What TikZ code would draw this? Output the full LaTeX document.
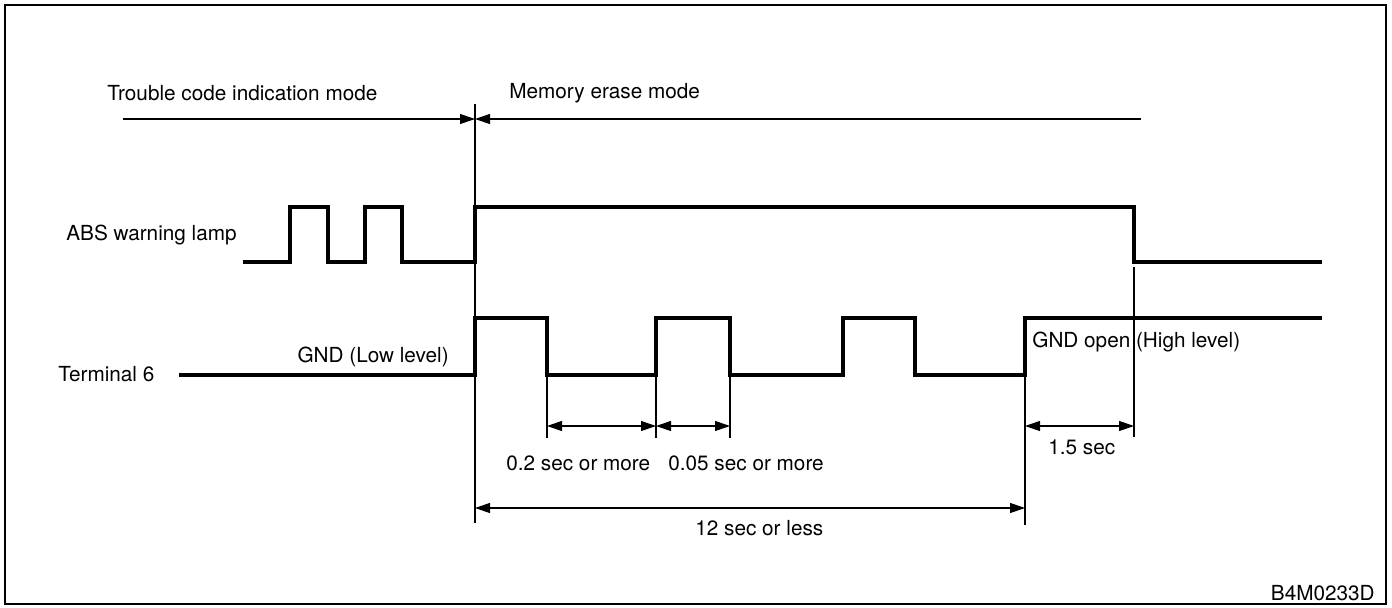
\documentclass[tikz,border=0pt]{standalone}
\usepackage{fontspec}
\setmainfont{TeX Gyre Heros}
\usetikzlibrary{arrows.meta}
\tikzset{wave/.style={line width=2.2pt,line join=miter},
  tick/.style={line width=0.6pt},
  dim/.style={line width=0.6pt,-{Triangle[length=3mm,width=2mm]}},
  dimboth/.style={line width=0.6pt,{Triangle[length=3mm,width=2mm]}-{Triangle[length=3mm,width=2mm]}},
  lbl/.style={inner sep=0pt,font=\fontsize{11.8}{14}\selectfont}
}
\begin{document}
\begin{tikzpicture}[x=0.2mm,y=-0.2mm]
  \useasboundingbox (0,0) rectangle (1392,607);
  % -- The frame round everything.
  \draw[line width=1pt] (5,5) rectangle (1386,604);

  % -- Mode labels and their arrows.
  \node[lbl,anchor=west] (trouble) at (107,93) {Trouble code indication mode};
  \node[lbl,anchor=west] (erase) at (509,93) {Memory erase mode};
  \coordinate (mstart) at (123,119);
  \coordinate (mmid) at (475,119);
  \coordinate (mend) at (1141,119);
  \draw[dim] (mstart) -- (mmid);
  \draw[dim] (mend) -- (mmid);

  % -- ABS warning lamp.
  \node[lbl,anchor=west] (lamp) at (66,235) {ABS warning lamp};
  \draw[wave] (243,262) -- ++(47,0) -- ++(0,-55) -- ++(38,0) -- ++(0,55) -- ++(37,0) -- ++(0,-55) -- ++(37,0) -- ++(0,55) -- ++(73,0) -- ++(0,-55) -- ++(659,0) -- ++(0,55) -- ++(188,0);

  % -- Terminal 6.
  \node[lbl,anchor=west] (term) at (58,374) {Terminal 6};
  \draw[wave] (179,375) -- ++(296,0) -- ++(0,-57) -- ++(72,0) -- ++(0,57) -- ++(109,0) -- ++(0,-57) -- ++(74,0) -- ++(0,57) -- ++(113,0) -- ++(0,-57) -- ++(72,0) -- ++(0,57) -- ++(110,0) -- ++(0,-57) -- ++(297,0);
  \node[lbl,anchor=east] (low) at (449,357) {GND (Low level)};
  \node[lbl,anchor=west] (high) at (1032,342) {GND open (High level)};

  % -- Extension lines.
  \draw[tick] (475,104) -- (475,523);
  \draw[tick] (1134,267) -- (1134,437);
  \draw[tick] (547,375) -- (547,438);
  \draw[tick] (656,318) -- (656,438);
  \draw[tick] (730,375) -- (730,438);
  \draw[tick] (1025,375) -- (1025,525);

  % -- Dimensions.
  \coordinate (a) at (547,426);
  \coordinate (b) at (656,426);
  \coordinate (c) at (730,426);
  \coordinate (d) at (1025,426);
  \coordinate (e) at (1134,426);
  \coordinate (f) at (475,508);
  \coordinate (g) at (1025,508);
  \draw[dimboth] (a) -- (b);
  \draw[dimboth] (b) -- (c);
  \draw[dimboth] (d) -- (e);
  \draw[dimboth] (f) -- (g);
  \node[lbl,anchor=west] (t1) at (506,463) {0.2 sec or more};
  \node[lbl,anchor=west] (t2) at (668,463) {0.05 sec or more};
  \node[lbl,anchor=west] (t3) at (1048,447) {1.5 sec};
  \node[lbl,anchor=west] (t4) at (695,528) {12 sec or less};

  \node[lbl,anchor=east] (code) at (1375,593) {B4M0233D};
\end{tikzpicture}
\end{document}
